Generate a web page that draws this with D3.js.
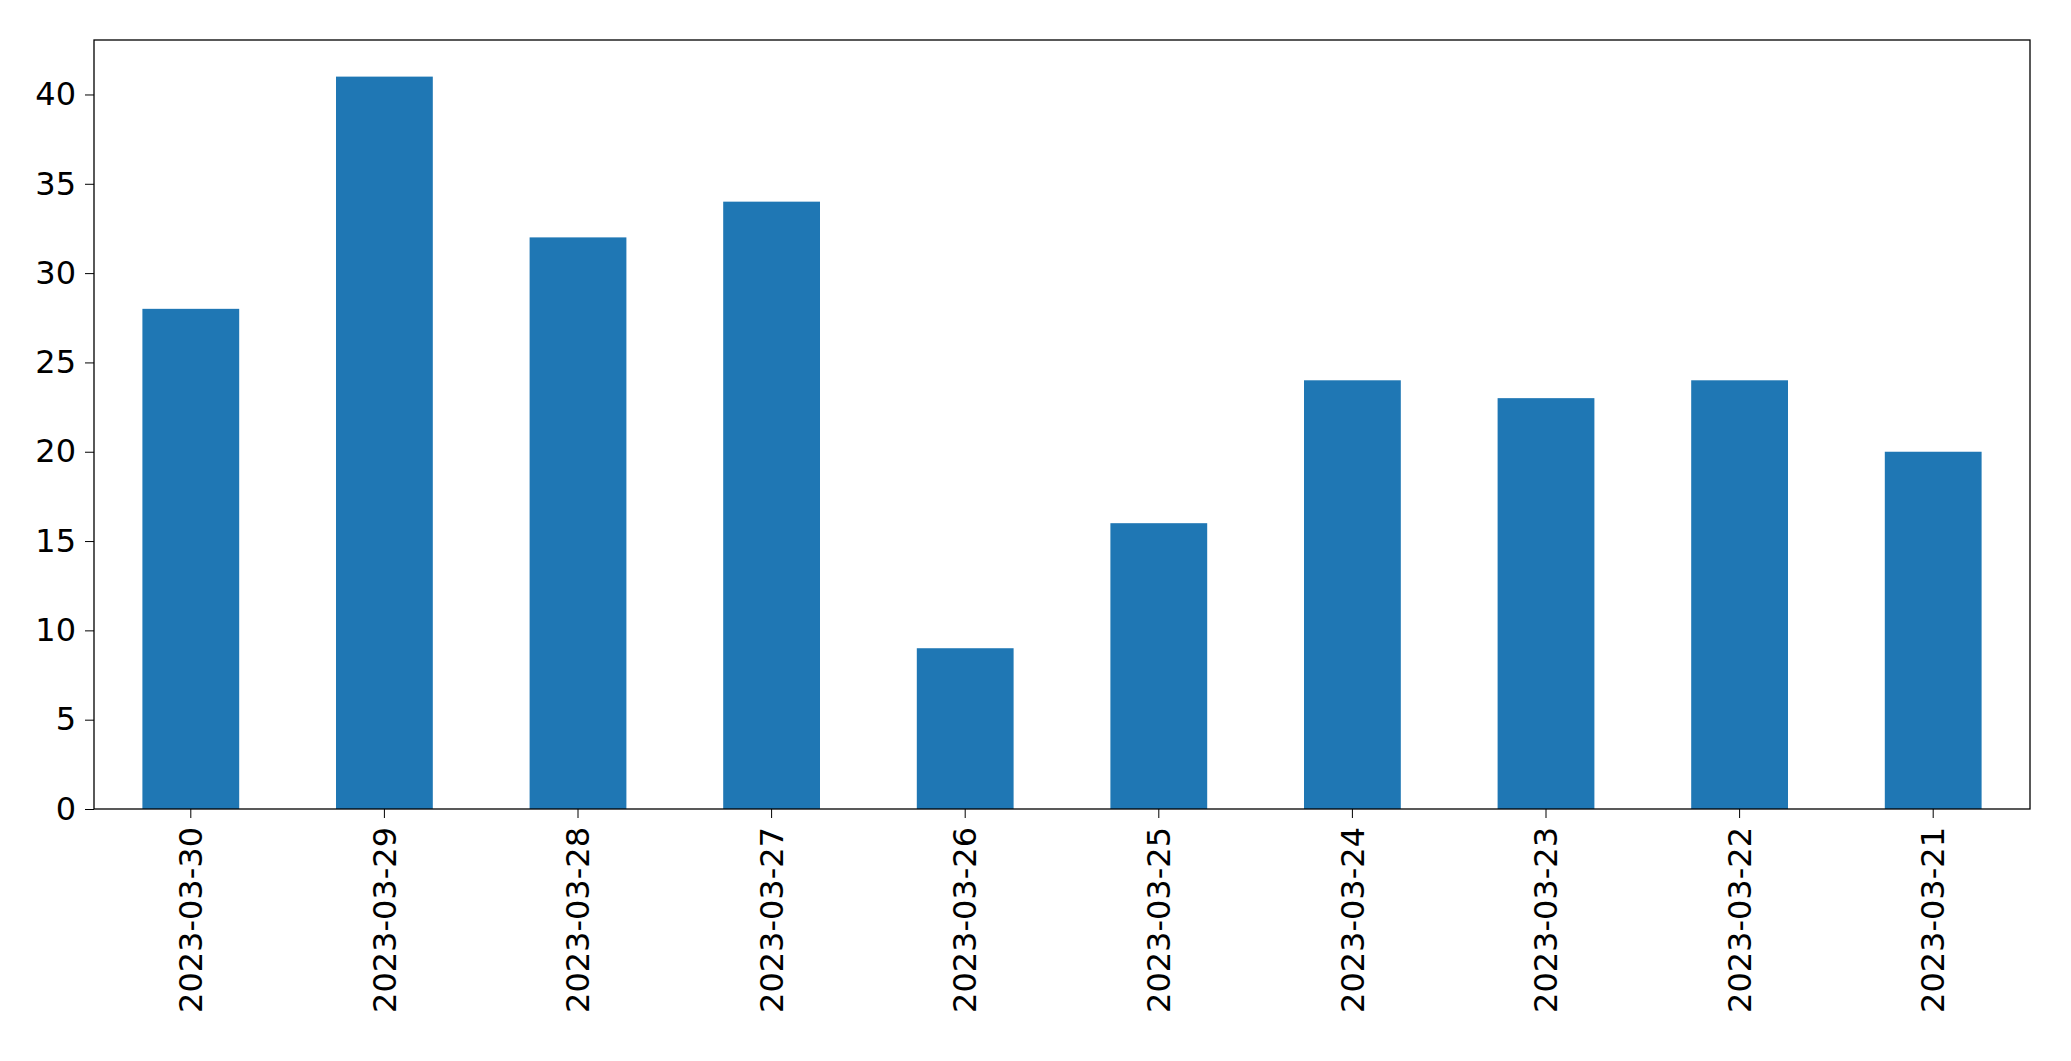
<!DOCTYPE html>
<html>
<head>
<meta charset="utf-8">
<script src="https://cdn.jsdelivr.net/npm/d3@7"></script>
<style>
  body { margin: 0; background: #fff; }
  text { font-family: "DejaVu Sans", sans-serif; }
</style>
</head>
<body>
<script>
const dates = ['2023-03-30', '2023-03-29', '2023-03-28', '2023-03-27', '2023-03-26',
  '2023-03-25', '2023-03-24', '2023-03-23', '2023-03-22', '2023-03-21']
const counts = [28, 41, 32, 34, 9, 16, 24, 23, 24, 20]
const yTicks = [0, 5, 10, 15, 20, 25, 30, 35, 40]

const width = 2071, height = 1061
const margin = { top: 40, right: 41, bottom: 252, left: 94 }

const svg = d3.select('body').append('svg')
  .attr('width', width).attr('height', height)

const x = d3.scaleBand()
  .domain(dates)
  .range([margin.left, width - margin.right])
  .paddingInner(0.5)
  .paddingOuter(0.25)

const y = d3.scaleLinear()
  .domain([0, d3.max(counts) * 1.05])
  .range([height - margin.bottom, margin.top])

svg.append('g')
  .selectAll('rect')
  .data(dates)
  .enter()
  .append('rect')
  .attr('x', (d) => x(d))
  .attr('y', (d, i) => y(counts[i]))
  .attr('width', x.bandwidth())
  .attr('height', (d, i) => y(0) - y(counts[i]))
  .attr('fill', '#1f77b4')

const yAxis = svg.append('g')
  .attr('transform', `translate(${margin.left},0)`)
  .call(d3.axisLeft(y).tickValues(yTicks).tickSize(9).tickPadding(9))
yAxis.select('.domain').remove()
yAxis.selectAll('text').style('font-size', '32px')

const xAxis = svg.append('g')
  .attr('transform', `translate(0,${height - margin.bottom})`)
  .call(d3.axisBottom(x).tickSize(9).tickPadding(9))
xAxis.select('.domain').remove()
xAxis.selectAll('text')
  .style('font-size', '32px')
  .attr('transform', 'rotate(-90)')
  .attr('text-anchor', 'end')
  .attr('x', -18)
  .attr('y', 0)
  .attr('dy', '0.35em')

svg.append('rect')
  .attr('x', margin.left).attr('y', margin.top)
  .attr('width', width - margin.left - margin.right)
  .attr('height', height - margin.top - margin.bottom)
  .attr('fill', 'none').attr('stroke', '#000').attr('stroke-width', 1.3)
</script>
</body>
</html>
